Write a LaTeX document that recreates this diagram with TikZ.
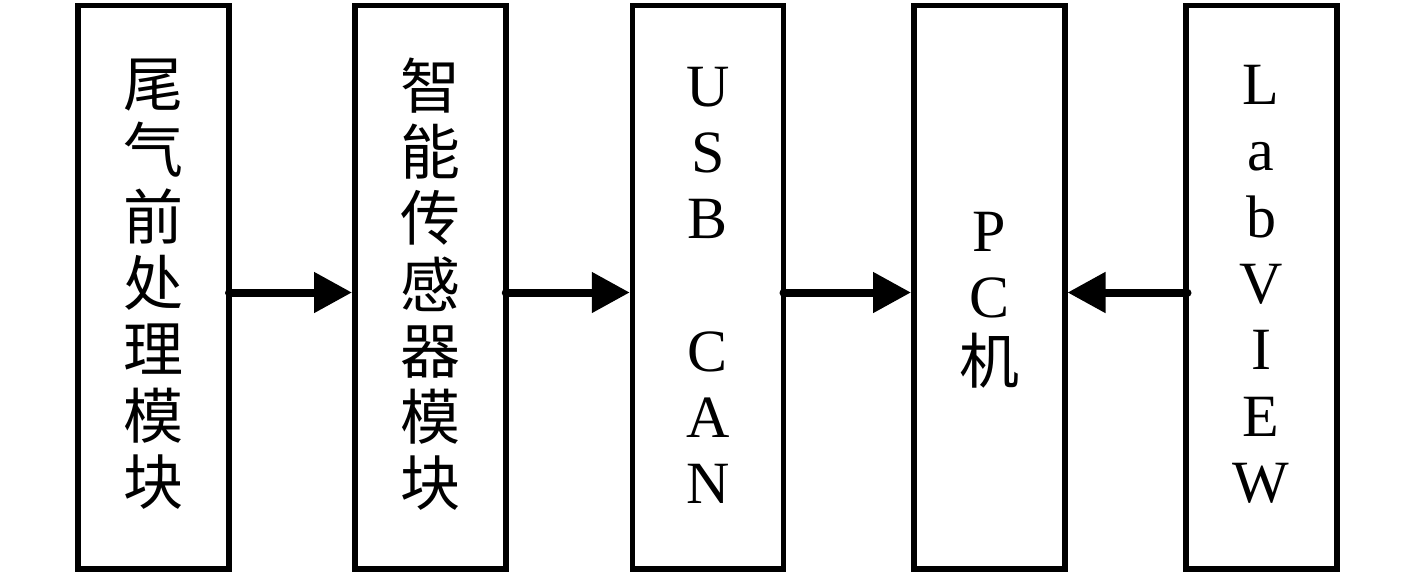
\documentclass[tikz,border=0pt]{standalone}
\usepackage{fontspec}
\setmainfont{Liberation Serif}
\newfontfamily\cjk{Noto Sans CJK SC}
\usetikzlibrary{arrows.meta,calc}
\tikzset{
  blk/.style={draw, line width=5.5pt, minimum width=151pt, minimum height=563.5pt, inner sep=0pt},
  txt/.style={align=center, inner sep=0pt, font=\fontsize{60}{66.3}\selectfont},
  flow/.style={line width=8pt, line cap=round, -{Triangle[length=38pt,width=39pt]}}
}
\begin{document}
\begin{tikzpicture}[x=1pt,y=-1pt]
\useasboundingbox (0,0) rectangle (1417,574);
\node[blk] (b1) at (153.5,287.25) {};
\node[blk] (b2) at (430.25,287.25) {};
\node[blk] (b3) at (708,287.25) {};
\node[blk] (b4) at (989.25,287.25) {};
\node[blk] (b5) at (1261.25,287.25) {};
\node[txt] (t1) at ([yshift=3pt]b1.center) {\cjk 尾\\\cjk 气\\\cjk 前\\\cjk 处\\\cjk 理\\\cjk 模\\\cjk 块};
\node[txt] (t2) at ([yshift=3pt]b2.center) {\cjk 智\\\cjk 能\\\cjk 传\\\cjk 感\\\cjk 器\\\cjk 模\\\cjk 块};
\node[txt] (t3) at ([yshift=2pt]b3.center) {U\\S\\B\\\mbox{}\\C\\A\\N};
\node[txt] (t4) at ([yshift=-13pt]b4.center) {P\\C\\{\cjk 机}};
\node[txt] (t5) at ([yshift=3pt]b5.center) {L\\a\\b\\V\\I\\E\\W};
\coordinate (ay) at (0,292.5);
\draw[flow] ($(b1.east |- ay)+(-2.75,0)$) -- (b2.west |- ay);
\draw[flow] ($(b2.east |- ay)+(-2.75,0)$) -- (b3.west |- ay);
\draw[flow] ($(b3.east |- ay)+(-2.75,0)$) -- (b4.west |- ay);
\draw[flow] ($(b5.west |- ay)+(4.5,0)$) -- (b4.east |- ay);
\end{tikzpicture}
\end{document}
